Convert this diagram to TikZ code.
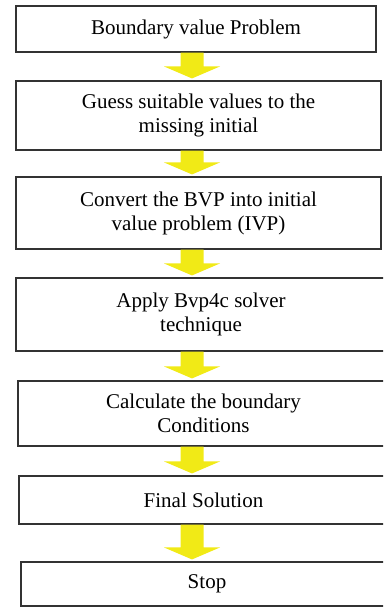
\documentclass[tikz,border=0pt]{standalone}
\usepackage{fontspec}
\setmainfont{Liberation Serif}
\usetikzlibrary{calc}
\definecolor{flowyellow}{RGB}{241,234,22}
\tikzset{
    stepbox/.style={draw=black!80,line width=1.1pt,fill=white,inner sep=0pt,
        align=center,font=\fontsize{21}{24}\selectfont},
    yarrow/.style={fill=flowyellow}
}
% fat yellow arrow from the bottom of one box down to the next
\newcommand{\flowarrow}[2]{%
    \fill[yarrow] ($(axis |- #1.south)+(-11.5,0)$)--($(axis |- #2.north)+(-11.5,-14)$)
        --($(axis |- #2.north)+(-28,-14)$)--($(axis |- #2.north)+(0,-2)$)
        --($(axis |- #2.north)+(28,-14)$)--($(axis |- #2.north)+(11.5,-14)$)
        --($(axis |- #1.south)+(11.5,0)$)--cycle;}
\begin{document}
\begin{tikzpicture}[x=1pt,y=-1pt]
        \clip (0,0) rectangle (383,607);
        \useasboundingbox (0,0) rectangle (383,607);
        \coordinate (axis) at (192,0);
        \node[stepbox,minimum width=360,minimum height=46] (bvp) at (196,29) {Boundary value Problem};
        \node[stepbox,minimum width=365,minimum height=69] (guess) at (198.5,115.5) {Guess suitable values to the\\missing initial};
        \node[stepbox,minimum width=365,minimum height=72] (ivp) at (198.5,213) {Convert the BVP into initial\\value problem (IVP)};
        \node[stepbox,minimum width=370,minimum height=73] (solver) at (201,314.5) {Apply Bvp4c solver\\technique};
        \node[stepbox,minimum width=371,minimum height=65] (bc) at (203.5,413.5) {Calculate the boundary\\Conditions};
        \node[stepbox,minimum width=369,minimum height=48] (final) at (203.5,500) {Final Solution};
        \node[stepbox,minimum width=372,minimum height=44] (stop) at (207,584) {Stop};
        %arrows
        \flowarrow{bvp}{guess}
        \flowarrow{guess}{ivp}
        \flowarrow{ivp}{solver}
        \flowarrow{solver}{bc}
        \flowarrow{bc}{final}
        \flowarrow{final}{stop}
    \end{tikzpicture}
\end{document}
